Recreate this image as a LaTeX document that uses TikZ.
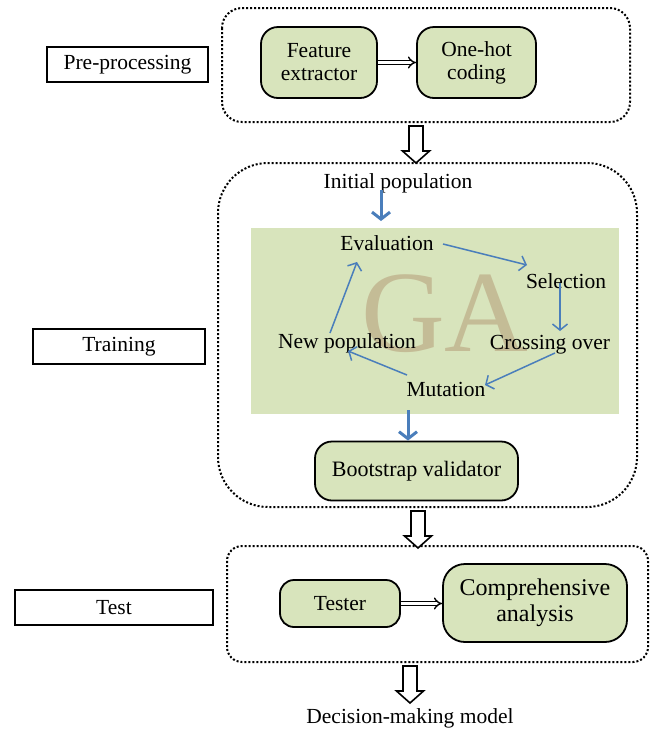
\documentclass[tikz,border=0pt]{standalone}
\usepackage{fontspec}
\setmainfont{Liberation Serif}
\usetikzlibrary{arrows.meta}
\definecolor{boxgreen}{HTML}{D8E4BC}
\definecolor{gatext}{HTML}{C4BC96}
\definecolor{flowblue}{HTML}{4A7EBB}
\tikzset{
  every node/.style={font=\fontsize{21.5}{23}\selectfont, inner sep=0pt},
  stage/.style={draw=black, line width=2pt, dash pattern=on 2pt off 2pt},
  label box/.style={draw=black, line width=1.6pt, rectangle},
  greenbox/.style={draw=black, line width=1.8pt, fill=boxgreen, align=center},
  dbl/.style={double, double distance=2.6pt, line width=1.4pt, -{Implies}},
  hollow/.style={draw=black, line width=1.6pt, fill=white, line join=miter},
  thin flow/.style={draw=flowblue, line width=1.5pt, -{Straight Barb[length=6pt,width=15pt,line width=1.5pt]}},
  thick flow/.style={draw=flowblue, line width=3pt, -{Straight Barb[length=7pt,width=18pt,line width=3pt]}},
  gatxt/.style={anchor=base},
}
\begin{document}
\begin{tikzpicture}[x=1pt,y=-1pt]
\useasboundingbox (0,0) rectangle (656,729);

% stage frames
\draw[stage, rounded corners=20pt] (222,8) rectangle (630,122);
\draw[stage, rounded corners=50pt] (218,163) rectangle (637,507);
\draw[stage, rounded corners=15pt] (227,546) rectangle (648,662);

% side labels
\node[label box, minimum width=161pt, minimum height=35pt] (lpre) at (127.5,64.5) {Pre-processing};
\node[label box, minimum width=172pt, minimum height=35pt] (ltrain) at (119,346.5) {Training};
\node[label box, minimum width=198pt, minimum height=35pt] (ltest) at (114,607.5) {Test};

% pre-processing
\node[greenbox, rounded corners=17pt, minimum width=116pt, minimum height=71pt] (fe) at (319,62.5) {Feature\\extractor};
\node[greenbox, rounded corners=17pt, minimum width=119pt, minimum height=71pt] (oh) at (476.5,62.5) {One-hot\\coding};
\draw[dbl] (fe) -- (oh);

% hollow arrows (top points)
\coordinate (h1) at (416,126);
\coordinate (h2) at (418,511);
\coordinate (h3) at (410,666);
\foreach \h in {h1,h2,h3}{
  \draw[hollow] (\h) ++(-7,0) -- ++(14,0) -- ++(0,25) -- ++(6.5,0) -- ++(-13.5,12) -- ++(-13.5,-12) -- ++(6.5,0) -- cycle;
}

% training
\node[gatxt] (init) at (398,188) {Initial population};
\fill[boxgreen] (251,228) rectangle (619,414);
\node[anchor=base, font=\fontsize{116}{116}\selectfont, text=gatext] (ga) at (445,351) {GA};

\node[gatxt] (ev) at (387,250) {Evaluation};
\node[gatxt] (sel) at (566,288) {Selection};
\node[gatxt] (co) at (550,349) {Crossing over};
\node[gatxt] (np) at (347,348) {New population};
\node[gatxt] (mu) at (446,396) {Mutation};

\coordinate (a1) at (381,190);
\coordinate (a2) at (381,221);
\draw[thick flow] (a1) -- (a2);

\coordinate (e1) at (443,244);
\coordinate (e2) at (527,265);
\draw[thin flow] (e1) -- (e2);
\coordinate (s1) at (560,283);
\coordinate (s2) at (560,331);
\draw[thin flow] (s1) -- (s2);
\coordinate (c1) at (555,353);
\coordinate (c2) at (485,385);
\draw[thin flow] (c1) -- (c2);
\coordinate (m1) at (407,375);
\coordinate (m2) at (348,351);
\draw[thin flow] (m1) -- (m2);
\coordinate (n1) at (330,333);
\coordinate (n2) at (357,262);
\draw[thin flow] (n1) -- (n2);

\node[greenbox, rounded corners=17pt, minimum width=203pt, minimum height=59pt, font=\fontsize{22}{24}\selectfont] (bv) at (416.5,471) {Bootstrap validator};
\coordinate (b1) at (408,410);
\draw[thick flow] (b1) -- (bv.north -| b1);

% test
\node[greenbox, rounded corners=14pt, minimum width=120pt, minimum height=47pt] (te) at (340,603.5) {Tester};
\node[greenbox, rounded corners=22pt, minimum width=184pt, minimum height=78pt, font=\fontsize{24}{26}\selectfont] (ca) at (535,603) {Comprehensive\\analysis};
\draw[dbl] (te) -- (te.east -| ca.west);

\node[gatxt] (dm) at (410,723) {Decision-making model};
\end{tikzpicture}
\end{document}
